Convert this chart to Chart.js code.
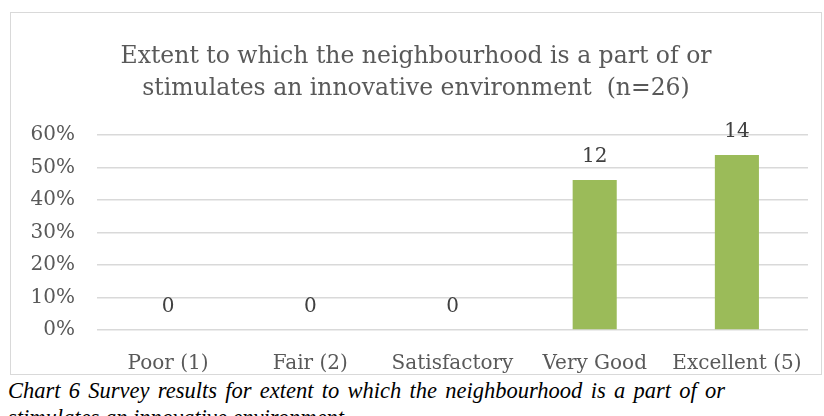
<!DOCTYPE html>
<html>
<head>
<meta charset="utf-8">
<script src="https://cdn.jsdelivr.net/npm/chart.js@4.4.1/dist/chart.umd.min.js"></script>
<style>
    body { margin: 0; background: #fff; width: 824px; height: 416px; overflow: hidden; position: relative; }
    #frame { position: absolute; left: 10px; top: 12px; width: 810px; height: 361px; border: 1px solid #d9d9d9; }
    #caption {
        position: absolute; left: 8px; top: 377px; width: 717px;
        font-family: "Liberation Serif", serif; font-style: italic; font-size: 22.5px;
        line-height: 27px; color: #000; text-align: justify;
    }
</style>
</head>
<body>
<div id="frame"><canvas id="surveyChart" width="810" height="361"></canvas></div>
<div id="caption">Chart 6 Survey results for extent to which the neighbourhood is a part of or stimulates an innovative environment</div>
<script>
const categories = ["Poor (1)", "Fair (2)", "Satisfactory", "Very Good", "Excellent (5)"];
const counts = [0, 0, 0, 12, 14];
const respondents = 26;
const yTicks = [0, 10, 20, 30, 40, 50, 60];

// share of respondents per answer, in percent
const shares = counts.map(c => c / respondents * 100);

const axisFont = { family: "DejaVu Serif", size: 20 };

// count labels above each bar
const countLabels = {
    id: "countLabels",
    afterDatasetsDraw(chart) {
        const ctx = chart.ctx;
        const meta = chart.getDatasetMeta(0);
        ctx.save();
        ctx.font = "20px 'DejaVu Serif'";
        ctx.fillStyle = "#404040";
        ctx.textAlign = "center";
        ctx.textBaseline = "middle";
        meta.data.forEach((bar, i) => {
            ctx.fillText(String(counts[i]), bar.x, bar.y - 23);
        });
        ctx.restore();
    }
};

const ctx = document.getElementById("surveyChart").getContext("2d");
new Chart(ctx, {
    type: "bar",
    data: {
        labels: categories,
        datasets: [{
            data: shares,
            backgroundColor: "#9bbb59",
            barPercentage: 0.31,
            categoryPercentage: 1
        }]
    },
    options: {
        responsive: false,
        animation: false,
        layout: { padding: { left: 13, right: 13, top: 0, bottom: 0 } },
        plugins: {
            legend: { display: false },
            tooltip: { enabled: false },
            title: {
                display: true,
                text: ["Extent to which the neighbourhood is a part of or",
                       "stimulates an innovative environment  (n=26)"],
                color: "#595959",
                font: { family: "DejaVu Serif", size: 23.5, weight: "normal", lineHeight: 1.36 },
                padding: { top: 28, bottom: 30 }
            }
        },
        scales: {
            x: {
                grid: { display: false },
                border: { display: false },
                ticks: { color: "#595959", font: axisFont, padding: 14, maxRotation: 0, autoSkip: false },
                afterFit(scale) { scale.height = 44; }
            },
            y: {
                min: 0,
                max: 60,
                afterBuildTicks(scale) { scale.ticks = yTicks.map(v => ({ value: v })); },
                grid: { color: "#d9d9d9", lineWidth: 1.5, drawTicks: false },
                border: { display: false },
                ticks: { color: "#595959", font: axisFont, padding: 22, callback: v => v + "%" },
                afterFit(scale) { scale.width = 73; }
            }
        }
    },
    plugins: [countLabels]
});
</script>
</body>
</html>
